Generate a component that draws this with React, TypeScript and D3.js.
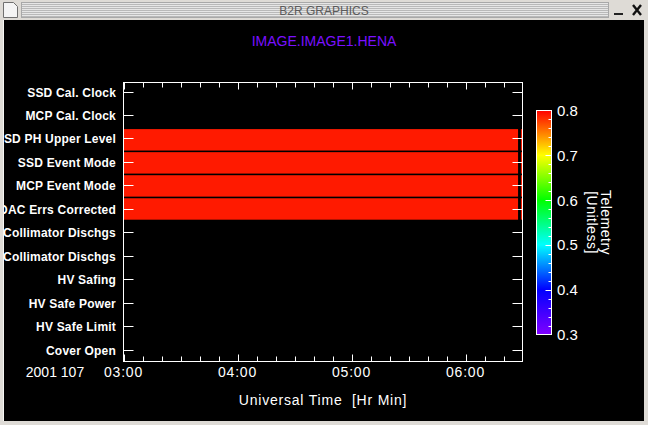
import React, { useEffect, useRef } from 'react';
import * as d3 from 'd3';

// rows of the telemetry panel, top to bottom
const categories = [
  'SSD Cal. Clock',
  'MCP Cal. Clock',
  'SSD PH Upper Level',
  'SSD Event Mode',
  'MCP Event Mode',
  'DAC Errs Corrected',
  'Collimator Dischgs',
  'Collimator Dischgs',
  'HV Safing',
  'HV Safe Power',
  'HV Safe Limit',
  'Cover Open',
];

// rows that carry data, with their telemetry value
const activeRows = [2, 3, 4, 5];
const telemetry = [0.79, 0.79, 0.79, 0.79];

// time segments with data (same for every active row)
const segmentStart = ['2001-04-17T03:00:00Z', '2001-04-17T06:29:10Z'];
const segmentEnd = ['2001-04-17T06:27:40Z', '2001-04-17T06:30:00Z'];

const timeDomain = ['2001-04-17T03:00:00Z', '2001-04-17T06:30:00Z'];
const xTickLabels = ['03:00', '04:00', '05:00', '06:00'];
const dateLabel = '2001 107';

const colorTicks = [0.3, 0.4, 0.5, 0.6, 0.7, 0.8];
const colorStops = ['#8000ff', '#0000ff', '#00ffff', '#00ff00', '#ffff00', '#ff0000'];

const W = 648;
const H = 425;
const FONT = "'Liberation Sans', Arial, sans-serif";

const App = () => {
  const svgRef = useRef<SVGSVGElement | null>(null);

  useEffect(() => {
    if (!svgRef.current) return;
    const svg = d3.select(svgRef.current);
    svg.selectAll('*').remove();

    const plot = { left: 123.5, right: 522.5, top: 82.5, bottom: 361.5 };

    // window frame background
    svg.append('rect').attr('width', W).attr('height', H).attr('fill', '#dedbd6');
    svg.append('rect').attr('x', 4).attr('y', 20).attr('width', 640).attr('height', 401).attr('fill', '#000');

    // title bar stripes
    const defs = svg.append('defs');
    const pat = defs.append('pattern')
      .attr('id', 'stripes')
      .attr('width', 4)
      .attr('height', 2)
      .attr('patternUnits', 'userSpaceOnUse');
    pat.append('rect').attr('width', 4).attr('height', 1).attr('fill', '#b9b9b9');
    pat.append('rect').attr('y', 1).attr('width', 4).attr('height', 1).attr('fill', '#e6e6e6');

    svg.append('rect')
      .attr('x', 21.5).attr('y', 2.5).attr('width', 587).attr('height', 15)
      .attr('fill', 'url(#stripes)')
      .attr('stroke', '#a8a8a8');

    svg.append('text')
      .attr('x', 324).attr('y', 15)
      .attr('text-anchor', 'middle')
      .style('font-family', FONT)
      .style('font-size', '12px')
      .style('fill', '#5a5a5a')
      .text('B2R GRAPHICS');

    // window menu icon
    svg.append('path')
      .attr('d', 'M3.5,2.5 H13.5 L17.5,6.5 V17.5 H3.5 Z')
      .attr('fill', '#f4f4f4')
      .attr('stroke', '#707070');

    // minimise / close buttons
    svg.append('rect').attr('x', 614).attr('y', 13).attr('width', 9).attr('height', 2).attr('fill', '#222');
    svg.append('path')
      .attr('d', 'M633,5 L641,15 M641,5 L633,15')
      .attr('stroke', '#111')
      .attr('stroke-width', 2.4);

    const g = svg.append('g');

    // chart title
    g.append('text')
      .attr('x', 324).attr('y', 46)
      .attr('text-anchor', 'middle')
      .style('font-family', FONT)
      .style('font-size', '14px')
      .style('fill', '#7a10ff')
      .text('IMAGE.IMAGE1.HENA');

    // scales
    const x = d3.scaleUtc()
      .domain(timeDomain.map(d => new Date(d)))
      .range([plot.left, plot.right]);

    const rowIdx = d3.range(categories.length);
    const yBand = d3.scaleBand<number>()
      .domain(rowIdx)
      .range([83, 358])
      .paddingInner(0.07);
    const yTick = d3.scalePoint<number>()
      .domain(rowIdx)
      .range([plot.top + 9, plot.bottom - 12]);

    const color = d3.scaleLinear<string>()
      .domain(colorTicks)
      .range(colorStops)
      .interpolate(d3.interpolateRgb);

    // bars
    const segs = activeRows.flatMap((row, i) =>
      segmentStart.map((s, j) => ({ row, v: telemetry[i], s: new Date(s), e: new Date(segmentEnd[j]) }))
    );
    g.append('g')
      .selectAll('rect')
      .data(segs)
      .join('rect')
      .attr('x', d => x(d.s))
      .attr('y', d => yBand(d.row)!)
      .attr('width', d => x(d.e) - x(d.s))
      .attr('height', yBand.bandwidth())
      .attr('fill', d => color(d.v));

    // frame
    g.append('rect')
      .attr('x', plot.left).attr('y', plot.top)
      .attr('width', plot.right - plot.left).attr('height', plot.bottom - plot.top)
      .attr('fill', 'none')
      .attr('stroke', '#fff');

    // time ticks, top and bottom
    const minor = d3.utcMinute.every(10)!.range(x.domain()[0], new Date(x.domain()[1].getTime() + 1));
    const ticks = g.append('g').attr('stroke', '#fff');
    minor.forEach(t => {
      const len = t.getUTCMinutes() === 0 ? 7 : 5;
      const tx = Math.round(x(t)) + 0.5;
      if (tx <= plot.left || tx >= plot.right) return;
      ticks.append('line').attr('x1', tx).attr('x2', tx).attr('y1', plot.bottom).attr('y2', plot.bottom - len);
      ticks.append('line').attr('x1', tx).attr('x2', tx).attr('y1', plot.top).attr('y2', plot.top + len);
    });

    // category ticks, left and right
    rowIdx.forEach(i => {
      const ty = Math.round(yTick(i)!) + 0.5;
      ticks.append('line').attr('x1', plot.left).attr('x2', plot.left + 10).attr('y1', ty).attr('y2', ty);
      ticks.append('line').attr('x1', plot.right).attr('x2', plot.right - 10).attr('y1', ty).attr('y2', ty);
    });

    // category labels
    g.append('g')
      .selectAll('text')
      .data(rowIdx)
      .join('text')
      .attr('x', 116)
      .attr('y', d => yTick(d)! + 5)
      .attr('text-anchor', 'end')
      .style('font-family', FONT)
      .style('font-size', '12px')
      .style('font-weight', 'bold')
      .style('letter-spacing', '0.2px')
      .style('fill', '#fff')
      .text(d => categories[d]);

    // time labels
    const hours = d3.utcHour.range(x.domain()[0], x.domain()[1]);
    g.append('g')
      .selectAll('text')
      .data(hours)
      .join('text')
      .attr('x', d => x(d))
      .attr('y', 377)
      .attr('text-anchor', 'middle')
      .style('font-family', FONT)
      .style('font-size', '14px')
      .style('letter-spacing', '0.8px')
      .style('fill', '#fff')
      .text((d, i) => xTickLabels[i]);

    g.append('text')
      .attr('x', 55).attr('y', 377)
      .attr('text-anchor', 'middle')
      .style('font-family', FONT)
      .style('font-size', '14px')
      .style('fill', '#fff')
      .text(dateLabel);

    g.append('text')
      .attr('x', 323).attr('y', 405)
      .attr('text-anchor', 'middle')
      .style('font-family', FONT)
      .style('font-size', '14px')
      .style('letter-spacing', '0.8px')
      .style('fill', '#fff')
      .style('white-space', 'pre')
      .text('Universal Time  [Hr Min]');

    // colour bar
    const cb = { left: 536.5, right: 551.5, top: 110.5, bottom: 334.5 };
    const cy = d3.scaleLinear().domain([0.3, 0.8]).range([cb.bottom, cb.top]);

    const grad = defs.append('linearGradient')
      .attr('id', 'cbar')
      .attr('x1', 0).attr('y1', 1).attr('x2', 0).attr('y2', 0);
    grad.selectAll('stop')
      .data(d3.range(0.3, 0.8001, 0.01))
      .join('stop')
      .attr('offset', d => (d - 0.3) / 0.5)
      .attr('stop-color', d => color(d));

    g.append('rect')
      .attr('x', cb.left).attr('y', cb.top)
      .attr('width', cb.right - cb.left).attr('height', cb.bottom - cb.top)
      .attr('fill', 'url(#cbar)')
      .attr('stroke', '#fff');

    const cbTicks = g.append('g').attr('stroke', '#fff');
    d3.range(0.32, 0.8, 0.02).forEach(v => {
      const major = Math.abs(v * 10 - Math.round(v * 10)) < 1e-6;
      const ty = Math.round(cy(v)) + 0.5;
      cbTicks.append('line')
        .attr('x1', cb.right).attr('x2', cb.right - (major ? 6 : 3))
        .attr('y1', ty).attr('y2', ty);
    });

    g.append('g')
      .selectAll('text')
      .data(colorTicks)
      .join('text')
      .attr('x', 557)
      .attr('y', d => cy(d) + 5.5)
      .style('font-family', FONT)
      .style('font-size', '15px')
      .style('fill', '#fff')
      .text(d => d3.format('.1f')(d));

    const lab = g.append('g')
      .attr('transform', `translate(598,${(cb.top + cb.bottom) / 2}) rotate(90)`)
      .style('font-family', FONT)
      .style('font-size', '14px')
      .style('letter-spacing', '0.5px')
      .style('fill', '#fff')
      .attr('text-anchor', 'middle');
    lab.append('text').attr('y', -3).text('Telemetry');
    lab.append('text').attr('y', 11).text('[Unitless]');

    // window borders drawn over the plot so long labels are clipped
    svg.append('rect').attr('x', 0).attr('y', 20).attr('width', 4).attr('height', H - 20).attr('fill', '#dedbd6');
    svg.append('line').attr('x1', 3.5).attr('x2', 3.5).attr('y1', 20).attr('y2', 421).attr('stroke', '#f6f6f4');
    svg.append('rect').attr('x', 644).attr('y', 20).attr('width', 4).attr('height', H - 20).attr('fill', '#dedbd6');
    svg.append('rect').attr('x', 0).attr('y', 421).attr('width', W).attr('height', 4).attr('fill', '#dedbd6');
  }, []);

  return (
    <div style={{ position: 'absolute', left: 0, top: 0, width: W, height: H }}>
      <svg ref={svgRef} width={W} height={H} style={{ display: 'block' }} />
    </div>
  );
};

export default App;
